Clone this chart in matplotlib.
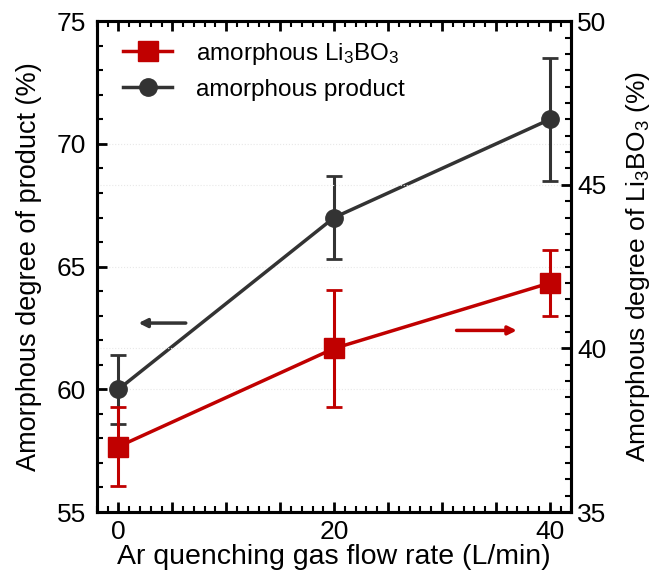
import matplotlib
matplotlib.use("Agg")
import matplotlib.pyplot as plt
from matplotlib.ticker import MultipleLocator, FuncFormatter
from matplotlib.lines import Line2D

plt.rcParams['font.family'] = ['Liberation Sans', 'DejaVu Sans']
plt.rcParams['mathtext.fontset'] = 'custom'
plt.rcParams['mathtext.rm'] = 'Liberation Sans'
plt.rcParams['mathtext.it'] = 'Liberation Sans'
plt.rcParams['mathtext.default'] = 'regular'

flow = [0, 20, 40]
product = [60.0, 67.0, 71.0]
product_err = [1.4, 1.7, 2.5]
li3bo3 = [37.0, 40.0, 42.0]
li3bo3_err = [1.2, 1.8, 1.0]

red = '#c00000'
blk = '#333333'

fig = plt.figure(figsize=(6.59, 5.74), dpi=100)
ax = fig.add_axes([0.147, 0.108, 0.72, 0.855])
ax2 = ax.twinx()

# faint grid
for y in [60, 65, 70]:
    ax.axhline(y, color='#e8e8e8', lw=0.8, ls=':', zorder=0)
for y in [40, 45]:
    ax2.axhline(y, color='#e8e8e8', lw=0.8, ls=':', zorder=0)

ax.errorbar(flow, product, yerr=product_err, color=blk, lw=2.5, marker='o',
            ms=12.5, capsize=6, capthick=2, elinewidth=2.2, zorder=3)
ax2.errorbar(flow, li3bo3, yerr=li3bo3_err, color=red, lw=2.5, marker='s',
             ms=14, capsize=6, capthick=2, elinewidth=2.2, zorder=3)

ax.set_xlim(-2, 42)
ax.set_ylim(55, 75)
ax2.set_ylim(35, 50)

ax.xaxis.set_major_locator(MultipleLocator(5))
ax.xaxis.set_minor_locator(MultipleLocator(1))
ax.xaxis.set_major_formatter(FuncFormatter(lambda v, p: f"{int(round(v))}" if round(v) % 20 == 0 else ""))
ax.yaxis.set_major_locator(MultipleLocator(5))
ax.yaxis.set_minor_locator(MultipleLocator(1))
ax2.yaxis.set_major_locator(MultipleLocator(5))
ax2.yaxis.set_minor_locator(MultipleLocator(0.5))

ax.tick_params(axis='both', which='major', direction='in', length=7, width=2, labelsize=19, top=True)
ax.tick_params(axis='x', which='major', pad=6)
ax.tick_params(axis='y', which='major', pad=8)
ax.tick_params(axis='both', which='minor', direction='in', length=4, width=1.5, top=True)
ax.tick_params(axis='y', which='both', right=False)
ax2.tick_params(axis='y', which='major', direction='in', length=7, width=2, labelsize=19, pad=4)
ax2.tick_params(axis='y', which='minor', direction='in', length=4, width=1.5)

for a in (ax, ax2):
    for s in a.spines.values():
        s.set_linewidth(2.2)

ax.set_xlabel('Ar quenching gas flow rate (L/min)', fontsize=20.5, labelpad=0)
ax.set_ylabel('Amorphous degree of product (%)', fontsize=19.5, labelpad=10)
ax2.set_ylabel('Amorphous degree of Li$_3$BO$_3$ (%)', fontsize=19, labelpad=13)

# arrows
ax.annotate('', xy=(1.6, 62.7), xytext=(6.5, 62.7),
            arrowprops=dict(arrowstyle='-|>,head_length=0.5,head_width=0.25', color=blk, lw=2.5))
ax.annotate('', xy=(37.2, 62.4), xytext=(31.1, 62.4),
            arrowprops=dict(arrowstyle='-|>,head_length=0.5,head_width=0.25', color=red, lw=2.5))

h_red = Line2D([], [], color=red, lw=2.5, marker='s', ms=14)
h_blk = Line2D([], [], color=blk, lw=2.5, marker='o', ms=12.5)
ax.legend([h_red, h_blk], ['amorphous Li$_3$BO$_3$', 'amorphous product'],
          loc='upper left', frameon=False, fontsize=17.5, handlelength=2.0,
          handletextpad=1.0, bbox_to_anchor=(0.02, 0.995), labelspacing=0.5,
          borderaxespad=0.3)

fig.savefig('out.png', dpi=100)
